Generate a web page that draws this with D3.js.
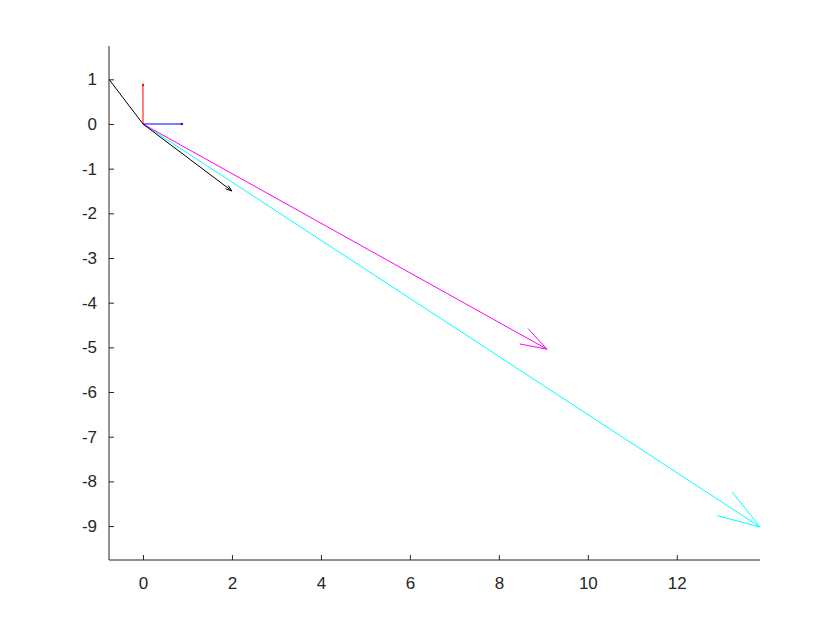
<!DOCTYPE html>
<html>
<head>
<meta charset="utf-8">
<script src="https://cdn.jsdelivr.net/npm/d3@7"></script>
<style>
  body { margin: 0; background: #fff; }
</style>
</head>
<body>
<svg class="chart"></svg>
<script>
// Vectors drawn from the origin (quiver style)
var vecU = [13.87, 9.08, 2.0, 0.0, 0.9];
var vecV = [-9.02, -5.04, -1.5, 0.9, 0.0];
var vecColor = ["#00ffff", "#ff00ff", "#000000", "#ff0000", "#0000ff"];

// Plain segment without head
var lineX = [-0.764, 0];
var lineY = [1, 0];

var xTicks = [0, 2, 4, 6, 8, 10, 12];
var yTicks = [1, 0, -1, -2, -3, -4, -5, -6, -7, -8, -9];

// Define margins and dimensions
var margin = {top: 46, right: 80, bottom: 70, left: 109},
    width = 840 - margin.left - margin.right,
    height = 630 - margin.top - margin.bottom;

var x = d3.scaleLinear()
    .domain([-0.764, 13.87])
    .range([0, width]);

var y = d3.scaleLinear()
    .domain([-9.76, 1.746])
    .range([height, 0]);

var svg = d3.select(".chart")
    .attr("width", 840)
    .attr("height", 630);

var chart = svg.append("g")
    .attr("transform", "translate(" + margin.left + "," + margin.top + ")");

// Inward ticks like MATLAB
var xAxis = d3.axisBottom(x).tickValues(xTicks).tickSize(-5).tickPadding(17).tickFormat(d3.format("d"));
var yAxis = d3.axisLeft(y).tickValues(yTicks).tickSize(-5).tickPadding(12).tickFormat(function(d) { return d < 0 ? "-" + Math.abs(d) : d; });

chart.append("g")
    .attr("class", "x axis")
    .attr("transform", "translate(0," + height + ")")
    .call(xAxis)
    .call(function(g) { g.select(".domain").attr("d", "M0,0H" + width); });

chart.append("g")
    .attr("class", "y axis")
    .call(yAxis)
    .call(function(g) { g.select(".domain").attr("d", "M0," + height + "V0"); });

chart.selectAll(".tick text")
    .style("font-family", "'Liberation Sans', Arial, sans-serif")
    .style("font-size", "17px")
    .attr("fill", "#262626");
chart.selectAll(".domain, .tick line").attr("stroke", "#262626");

// Clip plot area
chart.append("clipPath").attr("id", "clip")
  .append("rect").attr("width", width + 1).attr("height", height);

var plot = chart.append("g").attr("clip-path", "url(#clip)");

// segment
plot.append("line")
    .attr("x1", x(lineX[0])).attr("y1", y(lineY[0]))
    .attr("x2", x(lineX[1])).attr("y2", y(lineY[1]))
    .attr("stroke", "#000").attr("stroke-width", 1);

// quiver arrows: shaft plus two barbs
var alpha = 0.057, beta = 0.33;
vecU.forEach(function(u, i) {
  var v = vecV[i];
  var g = plot.append("g").attr("stroke", vecColor[i]).attr("stroke-width", 1).attr("fill", "none");
  g.append("line")
      .attr("x1", x(0)).attr("y1", y(0))
      .attr("x2", x(u)).attr("y2", y(v));
  var path = d3.path();
  path.moveTo(x(u - alpha * (u + beta * v)), y(v - alpha * (v - beta * u)));
  path.lineTo(x(u), y(v));
  path.lineTo(x(u - alpha * (u - beta * v)), y(v - alpha * (v + beta * u)));
  g.append("path").attr("d", path.toString());
});
</script>
</body>
</html>
